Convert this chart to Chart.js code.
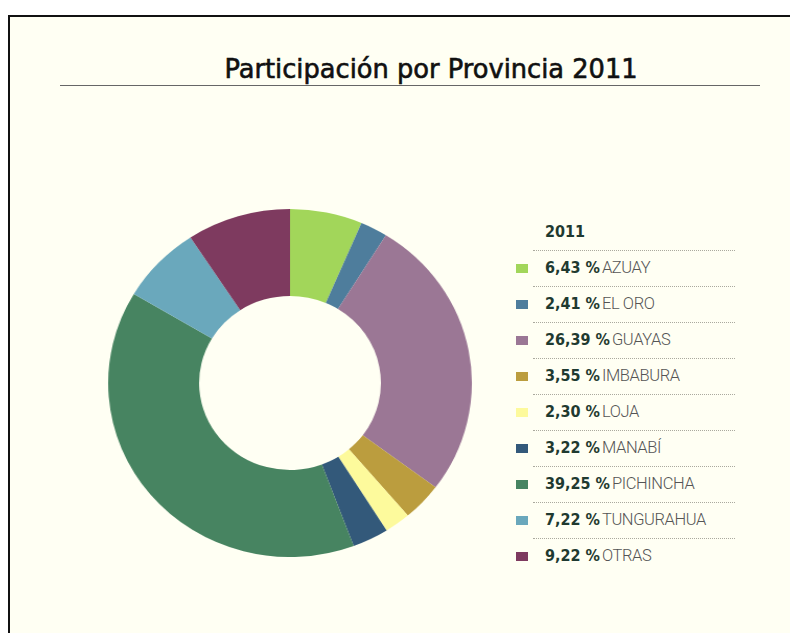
<!DOCTYPE html>
<html>
<head>
<meta charset="utf-8">
<script src="https://cdn.jsdelivr.net/npm/chart.js@4/dist/chart.umd.min.js"></script>
<style>
  html, body { margin: 0; padding: 0; background: #ffffff; }
  body { width: 790px; height: 633px; position: relative; overflow: hidden; }
  #frame {
    position: absolute; left: 8px; top: 15px; width: 800px; height: 640px;
    border-left: 2px solid #111; border-top: 2px solid #111;
    background: #fffff3;
  }
  #title {
    position: absolute; left: 0; width: 862px; top: 54px; text-align: center;
    font-family: "DejaVu Sans", sans-serif;
    font-size: 25.7px; color: #111; white-space: nowrap;
    -webkit-text-stroke: 0.6px #111;
  }
  #rule { position: absolute; left: 60px; width: 700px; top: 85px; height: 0; border-top: 1.5px solid #666; }
  #donut { position: absolute; left: 108px; top: 209px; width: 364px; height: 348px; transform: scaleX(1.045); transform-origin: 50% 50%; }
  .leg { position: absolute; white-space: nowrap; line-height: 20px; }
  .hdr { font-family: "DejaVu Sans Condensed", "DejaVu Sans", sans-serif; font-weight: bold; font-size: 16px; color: #1f3a30; }
  .val { font-family: "DejaVu Sans Condensed", "DejaVu Sans", sans-serif; font-weight: bold; font-size: 16px; color: #1f3a30; }
  .nm { font-family: Roboto, sans-serif; font-weight: 300; font-size: 16.5px; letter-spacing: -0.4px; color: #555; margin-left: 2px; }
  .sw { position: absolute; width: 12px; height: 9px; }
  .dot { position: absolute; left: 533px; width: 202px; height: 0; border-top: 1px dotted #aaa99e; }
</style>
</head>
<body>
<div id="frame"></div>
<div id="title">Participación por Provincia 2011</div>
<div id="rule"></div>
<div id="donut"><canvas id="c"></canvas></div>
<div id="legend"></div>
<script>
// Provincial share of the 2011 total, in percent
const year = "2011";
const provinces = ["AZUAY", "EL ORO", "GUAYAS", "IMBABURA", "LOJA", "MANABÍ", "PICHINCHA", "TUNGURAHUA", "OTRAS"];
const shares = [6.43, 2.41, 26.39, 3.55, 2.30, 3.22, 39.25, 7.22, 9.22];
const colors = ["#a2d65a", "#4e7d9c", "#9b7795", "#bb9d3e", "#fdfa9c", "#33597a", "#478461", "#6aa8bc", "#7e3a5f"];

const fmt = v => v.toFixed(2).replace(".", ",") + " %";

new Chart(document.getElementById("c"), {
  type: "doughnut",
  data: {
    labels: provinces,
    datasets: [{
      data: shares,
      backgroundColor: colors,
      borderWidth: 0,
      hoverOffset: 0
    }]
  },
  options: {
    responsive: true,
    maintainAspectRatio: false,
    animation: false,
    cutout: "50%",
    rotation: 0,
    layout: { padding: 0 },
    plugins: { legend: { display: false }, tooltip: { enabled: false }, title: { display: false } }
  }
});

// Side legend: header, dotted separators and one row per province
const legend = document.getElementById("legend");
const rowTop = 268, rowStep = 36;
const hdr = document.createElement("div");
hdr.className = "leg hdr";
hdr.style.left = "545px";
hdr.style.top = (rowTop - rowStep - 10) + "px";
hdr.textContent = year;
legend.appendChild(hdr);
provinces.forEach((name, i) => {
  const cy = rowTop + i * rowStep;
  const d = document.createElement("div");
  d.className = "dot";
  d.style.top = (cy - 18) + "px";
  legend.appendChild(d);
  const sw = document.createElement("div");
  sw.className = "sw";
  sw.style.left = "516px";
  sw.style.top = (cy - 4) + "px";
  sw.style.background = colors[i];
  legend.appendChild(sw);
  const row = document.createElement("div");
  row.className = "leg";
  row.style.left = "545px";
  row.style.top = (cy - 10) + "px";
  const v = document.createElement("span");
  v.className = "val";
  v.textContent = fmt(shares[i]);
  const n = document.createElement("span");
  n.className = "nm";
  n.textContent = name;
  row.appendChild(v);
  row.appendChild(n);
  legend.appendChild(row);
});
</script>
</body>
</html>
